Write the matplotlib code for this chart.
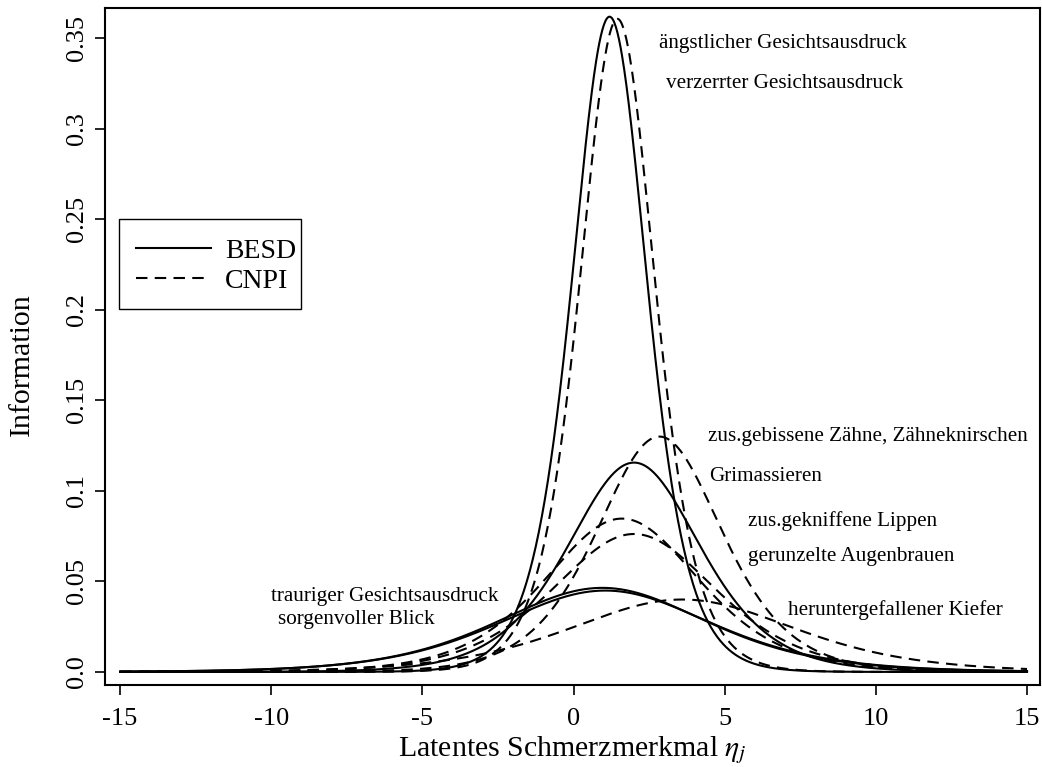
import numpy as np
import matplotlib
matplotlib.use("Agg")
import matplotlib.pyplot as plt
from matplotlib.lines import Line2D
from matplotlib.patches import Rectangle

plt.rcParams['font.family'] = ['Liberation Serif', 'DejaVu Serif']
plt.rcParams['mathtext.fontset'] = 'stix'

besd_items = ["verzerrter Gesichtsausdruck", "Grimassieren",
              "trauriger Gesichtsausdruck", "sorgenvoller Blick"]
besd_a = [1.203, 0.68, 0.431, 0.424]
besd_b = [1.19, 2.0, 0.95, 1.05]

cnpi_items = ["ängstlicher Gesichtsausdruck", "zus.gebissene Zähne, Zähneknirschen",
              "zus.gekniffene Lippen", "gerunzelte Augenbrauen",
              "heruntergefallener Kiefer"]
cnpi_a = [1.201, 0.721, 0.582, 0.552, 0.40]
cnpi_b = [1.45, 2.84, 1.6, 2.0, 3.6]

x_ticks = [-15, -10, -5, 0, 5, 10, 15]
y_ticks = [0.0, 0.05, 0.1, 0.15, 0.2, 0.25, 0.3, 0.35]
y_tick_labels = ["0.0", "0.05", "0.1", "0.15", "0.2", "0.25", "0.3", "0.35"]

# annotation placement (data coordinates)
label_text = ["ängstlicher Gesichtsausdruck", "verzerrter Gesichtsausdruck",
              "zus.gebissene Zähne, Zähneknirschen", "Grimassieren",
              "zus.gekniffene Lippen", "gerunzelte Augenbrauen",
              "heruntergefallener Kiefer", "trauriger Gesichtsausdruck",
              "sorgenvoller Blick"]
label_x = [6.93, 6.99, 9.72, 6.35, 8.9, 9.2, 10.66, -6.24, -7.2]
label_y = [0.3468, 0.3247, 0.1298, 0.1077, 0.0834, 0.0635, 0.0342, 0.0414, 0.0287]


def info(theta, a, b):
    p = 1.0 / (1.0 + np.exp(-a * (theta - b)))
    return a * a * p * (1 - p)


theta = np.linspace(-15, 15, 1201)

fig = plt.figure(figsize=(10.42, 7.67), dpi=100)
ax = fig.add_axes([105 / 1042, 1 - 685 / 767, 935 / 1042, 677 / 767])

lw = 1.5
for a, b in zip(besd_a, besd_b):
    ax.plot(theta, info(theta, a, b), color='black', lw=lw, ls='-')
for a, b in zip(cnpi_a, cnpi_b):
    ax.plot(theta, info(theta, a, b), color='black', lw=lw, dashes=(5.5, 3.5))

ax.set_xlim(-15.5, 15.43)
ax.set_ylim(-0.0072, 0.3666)

for t, x, y in zip(label_text, label_x, label_y):
    ax.text(x, y, t, ha='center', va='center', fontsize=15.2)

ax.set_xticks(x_ticks)
ax.set_xticklabels([str(v) for v in x_ticks])
ax.set_yticks(y_ticks)
ax.set_yticklabels(y_tick_labels, rotation=90, va='center')
ax.tick_params(axis='both', direction='out', length=7, width=1.2,
               labelsize=19, color='black')
ax.tick_params(axis='x', pad=9.6)
ax.tick_params(axis='y', pad=5)
for s in ax.spines.values():
    s.set_linewidth(1.5)

ax.set_xlabel(r"Latentes Schmerzmerkmal $\eta_j$", fontsize=21.5, va='center')
ax.xaxis.set_label_coords(0.5, -0.096)
ax.set_ylabel("Information", fontsize=21.5, va='center')
ax.yaxis.set_label_coords(-0.0888, 0.473)

handles = [Line2D([], [], color='black', lw=lw, ls='-'),
           Line2D([], [], color='black', lw=lw, dashes=(5.5, 3.5))]
leg = ax.legend(handles, ["BESD", "CNPI"], loc='upper left',
                bbox_to_anchor=(0.0171, 0.6821), fontsize=20, frameon=False,
                handlelength=2.7, handletextpad=0.5, labelspacing=0.16,
                borderpad=0.55, borderaxespad=0)
ax.add_patch(Rectangle((0.01497, 0.5554), 0.2096 - 0.01497, 0.6883 - 0.5554,
                       transform=ax.transAxes, fill=False, edgecolor='black',
                       lw=1.0, zorder=5))

fig.savefig("out.png", dpi=100)
